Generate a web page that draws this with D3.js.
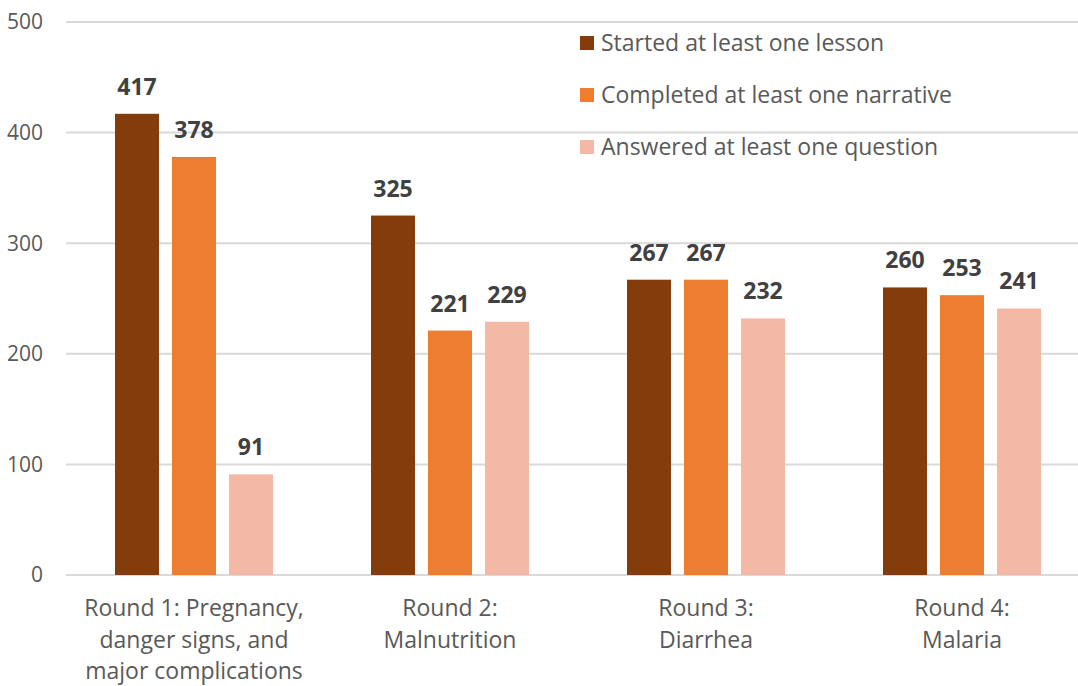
<!DOCTYPE html>
<html><head><meta charset="utf-8">
<script src="https://cdn.jsdelivr.net/npm/d3@7"></script>
<style>body{margin:0;background:#fff}svg{display:block}text{font-family:"Open Sans",sans-serif}</style>
</head><body>
<script>
const categories = [["Round 1: Pregnancy,","danger signs, and","major complications"],["Round 2:","Malnutrition"],["Round 3:","Diarrhea"],["Round 4:","Malaria"]];
const seriesNames = ["Started at least one lesson","Completed at least one narrative","Answered at least one question"];
const started = [417, 325, 267, 260];
const completed = [378, 221, 267, 253];
const answered = [91, 229, 232, 241];
const yTicks = [0,100,200,300,400,500];
const colors = ["#843C0C","#ED7D31","#F4B9A6"];

const W=1078,H=686;
const svg=d3.select("body").append("svg").attr("width",W).attr("height",H);
const series=[started,completed,answered];
const x=d3.scaleBand().domain(d3.range(categories.length)).range([66,1090]).paddingInner(0).paddingOuter(0);
const y=d3.scaleLinear().domain([0,500]).range([575,22]);
const xs=d3.scaleBand().domain(d3.range(3)).range([49,207]).paddingInner(13/57);

svg.append("g").selectAll("line").data(yTicks).join("line")
 .attr("x1",66).attr("x2",W).attr("y1",d=>y(d)).attr("y2",d=>y(d))
 .attr("stroke","#d9d9d9").attr("stroke-width",2);
svg.append("g").selectAll("text").data(yTicks).join("text")
 .attr("x",43).attr("y",d=>y(d)).attr("dy","0.35em").attr("text-anchor","end")
 .attr("fill","#595959").attr("font-size",21).text(d=>d);

series.forEach((s,si)=>{
 const g=svg.append("g");
 g.selectAll("rect").data(s).join("rect")
  .attr("x",(d,i)=>x(i)+xs(si)).attr("width",xs.bandwidth())
  .attr("y",d=>y(d)).attr("height",d=>y(0)-y(d)).attr("fill",colors[si]);
 g.selectAll("text").data(s).join("text")
  .attr("x",(d,i)=>x(i)+xs(si)+xs.bandwidth()/2).attr("y",d=>y(d)-19)
  .attr("text-anchor","middle").attr("font-weight","bold").attr("font-size",23)
  .attr("fill","#404040").text(d=>d);
});

const cg=svg.append("g");
categories.forEach((lines,i)=>{
 const t=cg.append("text").attr("text-anchor","middle").attr("fill","#595959").attr("font-size",23);
 lines.forEach((l,li)=>t.append("tspan").attr("x",x(i)+x.bandwidth()/2).attr("y",616+li*31.5).text(l));
});

const lg=svg.append("g");
seriesNames.forEach((n,i)=>{
 lg.append("rect").attr("x",580).attr("y",36+i*52).attr("width",14).attr("height",14).attr("fill",colors[i]);
 lg.append("text").attr("x",601).attr("y",43+i*52).attr("dy","0.35em").attr("fill","#595959").attr("font-size",23).text(n);
});
</script>
</body></html>
